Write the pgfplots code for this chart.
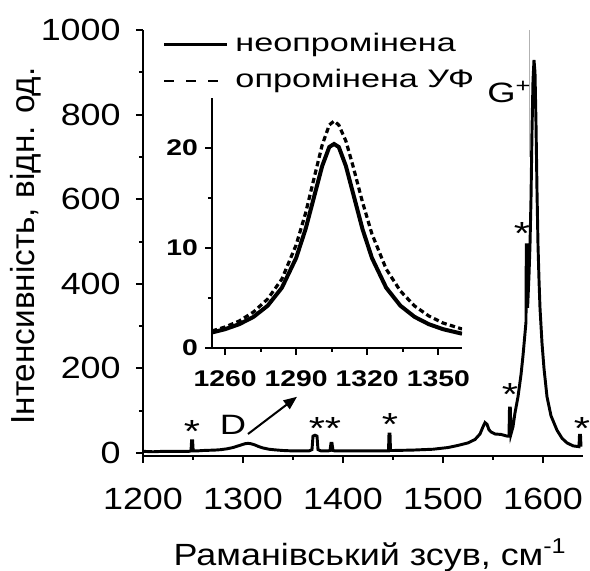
\documentclass[border=0pt]{standalone}
\usepackage{pgfplots}
\pgfplotsset{compat=1.18}
\usepackage{fontspec}
\setmainfont{Liberation Sans}[FakeStretch=1.17]
\newfontfamily\tickfont{Liberation Sans}[FakeStretch=1.17]
\newfontfamily\legfont{Liberation Sans}[FakeStretch=1.35]
\newfontfamily\annfont{Liberation Sans}[FakeStretch=1.3]
\newfontfamily\plainfont{Liberation Sans}
\newfontfamily\boldfont{Liberation Sans Bold}[FakeStretch=1.25]
\usetikzlibrary{arrows.meta}

\newcommand\tickf{\tickfont\fontsize{23}{27}\selectfont}
\newcommand\annf{\annfont\fontsize{21}{25}\selectfont}
\newcommand\astf{\annfont\fontsize{24}{28}\selectfont}

\begin{document}
\begin{tikzpicture}
\begin{axis}[
  name=main, at={(0,0)}, anchor=south west,
  scale only axis, width=330pt, height=319.5pt,
  xmin=1200, xmax=1640, ymin=-7, ymax=1000,
  axis x line*=bottom, axis y line*=left,
  axis line style={line width=1.5pt},
  tick align=outside, major tick length=5.25pt, minor tick length=3pt,
  tick style={line width=1.5pt, black},
  xtick={1200,1300,1400,1500,1600}, ytick={0,200,400,600,800,1000},
  xticklabels={1200,1300,1400,1500,1600},
  yticklabels={0,200,400,600,800,1000},
  minor x tick num=1, minor y tick num=1,
  ticklabel style={font=\tickf},
  xticklabel style={yshift=-15pt},
  yticklabel style={xshift=-8pt},
  xlabel={Раманівський зсув, см\textsuperscript{-1}},
  xlabel style={font=\tickf, at={(axis description cs:0.516,-0.256)}, anchor=base},
  ylabel={Інтенсивність, відн. од.},
  ylabel style={font=\plainfont\fontsize{25}{30}\selectfont,
    at={(axis description cs:-0.2455,0.493)}, anchor=base},
  clip=false,
  legend style={draw=none, fill=none, at={(axis cs:1219.3,1000)}, anchor=north west,
    font=\legfont\fontsize{19}{22}\selectfont, inner sep=0pt, row sep=5.4pt, column sep=3.5pt,
    nodes={inner sep=2pt, text height=13.6pt, text depth=4pt}},
  legend cell align=left,
  legend image code/.code={\draw[#1] (0pt,0pt) -- (47pt,0pt);},
]
\addlegendimage{black, line width=2.2pt}
\addlegendentry{неопромінена}
\addlegendimage{black, line width=1.5pt, dash pattern=on 7.5pt off 9pt}
\addlegendentry{опромінена УФ}

\addplot[gray!60, line width=0.5pt, forget plot] coordinates {(1586,1000) (1586,700)};

\addplot[black, line width=2.2pt, forget plot] coordinates {
(1200,4) (1210,3) (1220,4) (1230,4) (1240,4) (1246,4) (1248,5) (1248.6,29) (1249.6,29) (1250.2,5)
(1254,5) (1260,6) (1266,6.5) (1272,7) (1278,8) (1284,10) (1290,13) (1294,16) (1298,19)
(1302,22) (1305,23) (1308,22) (1312,19) (1316,15) (1320,12) (1326,9) (1332,7.5) (1340,6)
(1350,5) (1360,5) (1366,5) (1369,8) (1370,40) (1372,42) (1374,40) (1375,8) (1378,5)
(1385,5) (1387,6) (1388,23) (1389,23) (1390,6) (1392,5) (1400,5) (1420,5) (1440,5)
(1445.5,5) (1446,45) (1447,45) (1447.5,6) (1450,6) (1470,7) (1490,9) (1505,13) (1515,18)
(1525,24) (1532,32) (1537,45) (1540,62) (1542,72) (1544,68) (1546,55) (1548,50) (1552,45)
(1558,44) (1564,40) (1566,40) (1566.5,106) (1567.3,106) (1568,45) (1570,62) (1572,95)
(1575,133) (1578,185) (1580,230) (1582,283) (1583,310) (1583.3,492) (1584.3,492) (1584.6,343)
(1586,420) (1587,492) (1588,600) (1589,760) (1590,880) (1591,929) (1592,900) (1593,780)
(1594,620) (1595,492) (1596,410) (1597,343) (1599,260) (1601,200) (1604,133) (1608,88)
(1614,54) (1619,35) (1624,24) (1630,17) (1636,15) (1636.5,42) (1637.5,42) (1638,15)
};

\node[anchor=base, font=\astf] at (axis cs:1249,25) {*};
\node[anchor=base, font=\annf] at (axis cs:1290,44) {D};
\node[anchor=base, font=\astf] at (axis cs:1382,32) {**};
\node[anchor=base, font=\astf] at (axis cs:1447,42) {*};
\node[anchor=base, font=\astf] at (axis cs:1567,113) {*};
\node[anchor=base, font=\astf] at (axis cs:1639,32) {*};
\node[anchor=base, font=\astf] at (axis cs:1579,493) {*};
\node[anchor=base west, font=\annf, inner sep=0pt] at (axis cs:1544,829) {G\textsuperscript{+}};
\draw[-{Triangle[length=10pt,width=8pt]}, line width=1.5pt] (axis cs:1305,45) -- (axis cs:1354,133);
\end{axis}

\begin{axis}[
  at={(51.75pt,81pt)}, anchor=south west,
  scale only axis, width=187.5pt, height=187.5pt,
  xmin=1254.5, xmax=1360, ymin=0, ymax=25,
  axis x line*=bottom, axis y line*=left,
  axis line style={line width=1.5pt},
  tick align=outside, major tick length=5pt, minor tick length=3pt,
  tick style={line width=1.5pt, black},
  xtick={1260,1290,1320,1350}, ytick={0,10,20},
  xticklabels={1260,1290,1320,1350}, yticklabels={0,10,20},
  minor x tick num=1, minor y tick num=1,
  ticklabel style={font=\boldfont\fontsize{17}{20}\selectfont},
  xticklabel style={yshift=-8.5pt},
  yticklabel style={xshift=-2pt},
]
\addplot[black, line width=2.4pt, dash pattern=on 4pt off 2.5pt] coordinates {
(1254.5,1.7) (1260,2.1) (1266,2.7) (1272,3.6) (1278,4.9) (1284,6.9) (1290,10.3) (1294,13.5)
(1298,17.4) (1301,20.3) (1304,22.3) (1306,22.7) (1308,22.3) (1311,20.7) (1314,18.2)
(1318,14.6) (1322,11.4) (1328,7.9) (1334,5.7) (1340,4.2) (1346,3.2) (1352,2.5) (1360,1.9)
};
\addplot[black, line width=3pt] coordinates {
(1254.5,1.55) (1260,1.88) (1266,2.38) (1272,3.11) (1278,4.23) (1284,6.03) (1290,9.0)
(1294,11.9) (1298,15.5) (1301,18.2) (1304,20.1) (1306,20.4) (1308,20.1) (1311,18.2)
(1314,15.5) (1318,11.9) (1322,9.0) (1328,6.03) (1334,4.23) (1340,3.11) (1346,2.38)
(1352,1.88) (1360,1.43)
};
\end{axis}
\pgfresetboundingbox
\path (-107.25pt,-86.25pt) rectangle (335.25pt,342pt);
\end{tikzpicture}
\end{document}
